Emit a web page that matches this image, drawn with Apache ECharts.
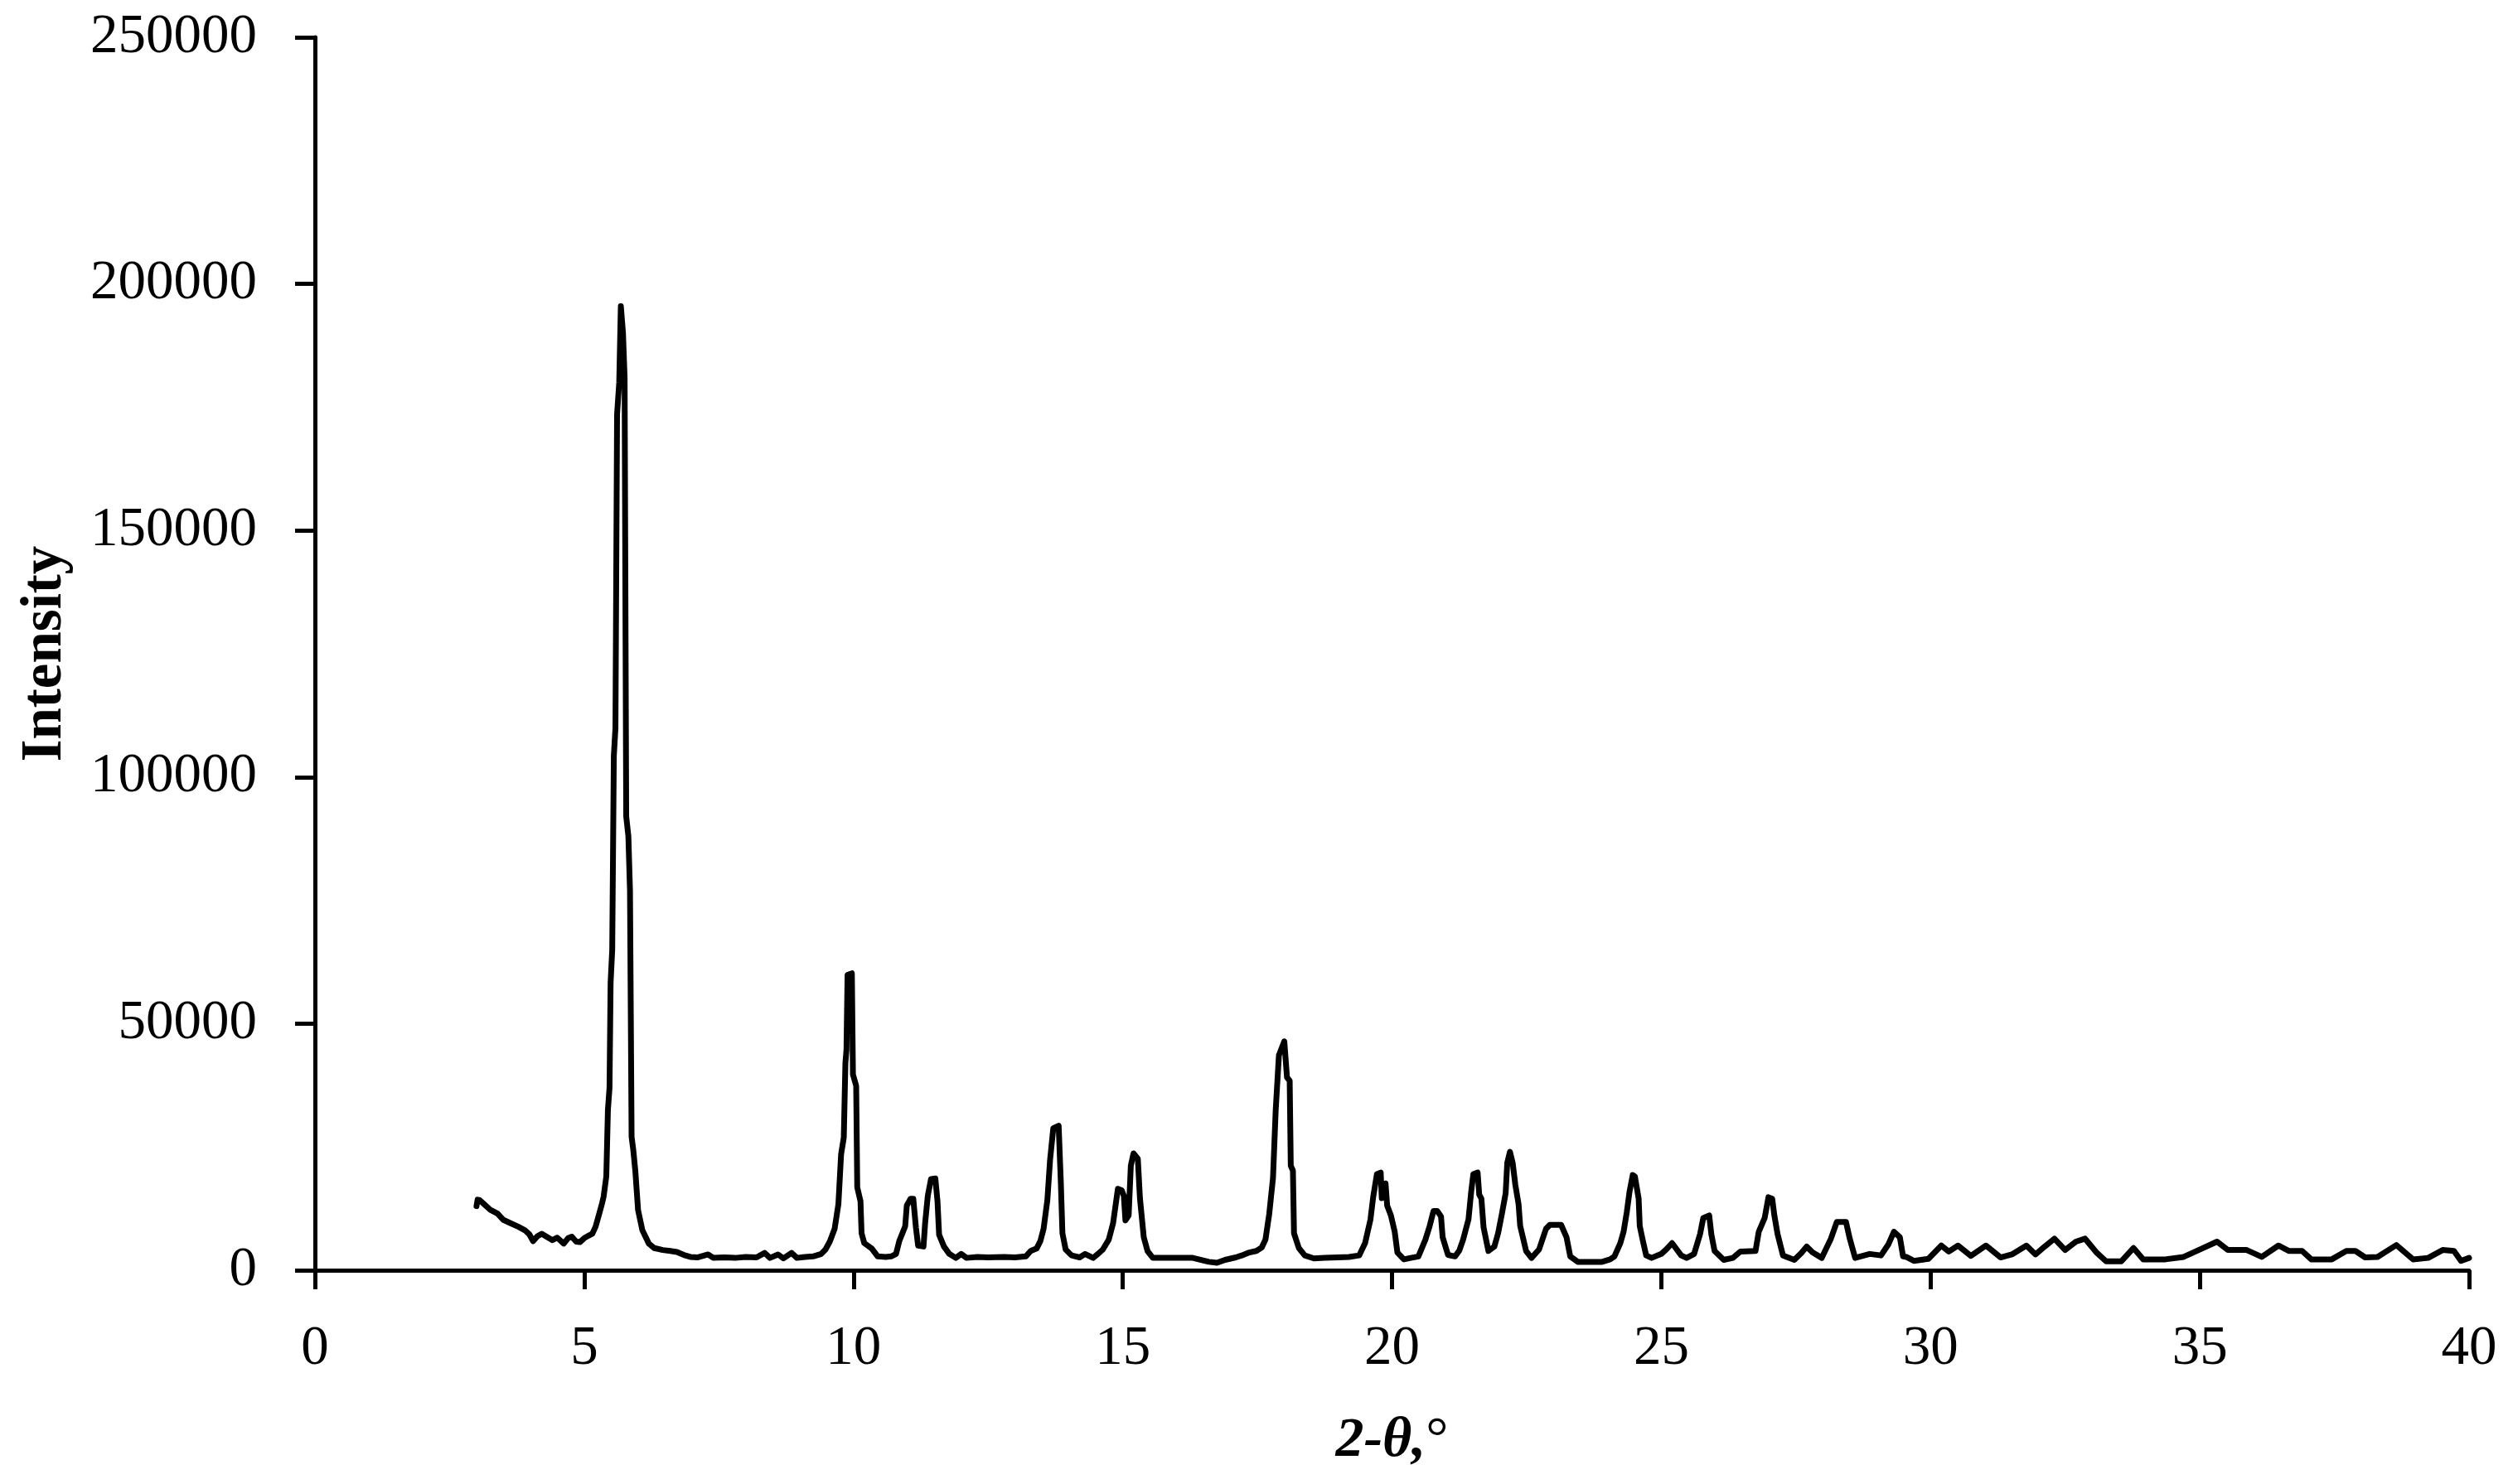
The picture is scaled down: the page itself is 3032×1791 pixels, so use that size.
<!DOCTYPE html>
<html>
<head>
<meta charset="utf-8">
<script src="https://cdn.jsdelivr.net/npm/echarts@6/dist/echarts.min.js"></script>
<style>
html,body{margin:0;padding:0;background:#fff;}
#chart{width:3032px;height:1791px;}
</style>
</head>
<body>
<div id="chart"></div>
<script>
var twoTheta = [
3.00,3.02,3.06,3.13,3.25,3.39,3.50,3.64,3.78,3.90,3.98,4.05,4.13,4.21,4.30,4.41,4.50,4.62,4.70,4.77,
4.85,4.92,5.00,5.08,5.15,5.21,5.28,5.33,5.36,5.41,5.44,5.47,5.49,5.52,5.55,5.58,5.61,5.65,5.68,5.72,
5.75,5.78,5.82,5.85,5.88,5.91,5.95,6.00,6.08,6.20,6.30,6.46,6.60,6.72,6.85,6.97,7.10,7.30,7.40,7.60,
7.80,8.00,8.20,8.35,8.45,8.60,8.70,8.85,8.95,9.10,9.25,9.40,9.48,9.56,9.65,9.72,9.77,9.82,9.85,9.87,
9.89,9.97,9.99,10.05,10.07,10.13,10.15,10.20,10.34,10.45,10.60,10.70,10.79,10.85,10.96,10.99,11.06,11.11,11.16,11.20,
11.30,11.33,11.38,11.44,11.52,11.56,11.59,11.68,11.78,11.90,12.00,12.10,12.30,12.50,12.80,13.00,13.20,13.29,13.40,13.47,
13.53,13.60,13.65,13.71,13.81,13.85,13.88,13.94,14.05,14.20,14.30,14.45,14.55,14.63,14.74,14.82,14.87,14.91,14.98,15.02,
15.05,15.11,15.15,15.20,15.28,15.32,15.39,15.46,15.56,15.70,16.00,16.30,16.60,16.75,16.90,17.10,17.21,17.35,17.48,17.58,
17.65,17.72,17.79,17.84,17.90,18.00,18.05,18.10,18.12,18.16,18.18,18.27,18.38,18.55,18.75,19.00,19.20,19.39,19.50,19.60,
19.65,19.72,19.79,19.81,19.88,19.91,19.98,20.05,20.10,20.22,20.35,20.49,20.62,20.70,20.77,20.84,20.91,20.94,21.04,21.17,
21.25,21.32,21.42,21.47,21.51,21.59,21.62,21.66,21.70,21.79,21.90,21.97,22.04,22.11,22.14,22.19,22.24,22.29,22.35,22.38,
22.49,22.59,22.73,22.86,22.93,23.14,23.24,23.31,23.45,23.70,23.90,24.05,24.13,24.24,24.30,24.36,24.41,24.47,24.51,24.58,
24.60,24.65,24.72,24.82,25.00,25.10,25.20,25.37,25.47,25.61,25.72,25.78,25.89,25.93,25.99,26.16,26.33,26.47,26.75,26.81,
26.92,26.99,27.06,27.10,27.16,27.26,27.47,27.60,27.70,27.81,27.98,28.15,28.26,28.43,28.50,28.60,28.87,29.08,29.22,29.32,
29.43,29.49,29.55,29.69,29.96,30.20,30.34,30.51,30.75,31.03,31.30,31.51,31.78,31.95,32.12,32.30,32.50,32.70,32.87,33.09,
33.26,33.54,33.77,33.95,34.36,34.70,34.98,35.32,35.52,35.87,36.15,36.46,36.66,36.90,37.07,37.45,37.72,37.89,38.07,38.30,
38.65,38.96,39.24,39.51,39.72,39.85,40.00
];
var intensity = [
13000,14300,14200,13500,12300,11500,10200,9500,8800,8100,7300,5900,6900,7400,6800,6100,6600,5400,6500,6800,
5800,5700,6500,7000,7400,8800,11500,13500,14900,19000,32500,37000,58300,65000,104300,110000,173500,180000,195500,190000,
181000,92000,88000,77000,27000,24500,20000,12200,8100,5400,4500,4100,3900,3700,3100,2700,2600,3200,2500,2600,
2500,2700,2600,3500,2500,3200,2400,3500,2500,2700,2800,3300,4200,5800,8400,13400,23500,26900,42000,44700,
59900,60200,39700,37400,16800,14000,7500,5500,4400,2800,2700,2800,3300,5900,8900,13100,14500,14500,8600,5000,
4800,9500,15100,18500,18600,14000,7200,4800,3300,2500,3300,2500,2700,2600,2700,2600,2800,3900,4400,5900,
8400,14200,22300,28800,29300,17900,7500,4200,3000,2600,3300,2500,3400,4200,6200,9500,13400,16500,16200,15100,
10100,11100,21200,23700,22600,14500,6700,3900,2500,2500,2500,2500,1700,1500,2100,2600,3000,3600,3900,4600,
6200,11400,18700,32400,43600,46400,39100,38400,21200,20200,7500,4500,3000,2400,2500,2600,2700,3000,5500,10300,
14800,19500,19800,14600,17600,13100,11100,7800,3600,2200,2500,2800,6200,9000,12000,12000,10900,6700,3100,2800,
4000,6200,10300,15900,19500,19800,15300,14500,8700,3900,4800,7500,11400,15600,21800,24000,21800,17300,13400,9000,
3900,2500,4200,8400,9200,9200,6700,2800,1700,1700,1700,2200,2800,5500,7800,11800,15900,19300,19000,14500,
9000,6400,3000,2500,3300,4300,5500,3000,2500,3300,7300,10600,11100,7300,3900,2100,2500,3800,3900,7800,
10600,14800,14500,11100,7300,3000,2100,3500,4800,3600,2500,6400,9800,9800,6400,2500,3300,3000,5300,7800,
6700,2800,2700,1900,2300,5000,3800,5000,2900,5000,2600,3200,5000,3200,4800,6400,4100,5800,6400,3500,
1800,1800,4500,2200,2200,2700,4100,5800,4100,4100,2700,5000,3900,3900,2200,2200,3900,3900,2600,2700,
5100,2200,2500,4100,3900,1900,2500
];
var xTicks = {min: 0, max: 40, interval: 5};
var yTicks = {min: 0, max: 250000, interval: 50000};
var xTitle = '2-θ,°';
var yTitle = 'Intensity';

var points = twoTheta.map(function (t, i) { return [t, intensity[i]]; });
var FONT = '"Liberation Serif", "DejaVu Serif", serif';

var chart = echarts.init(document.getElementById('chart'), null, {renderer: 'canvas'});
chart.setOption({
  animation: false,
  backgroundColor: '#ffffff',
  grid: {left: 380, right: 53, top: 45, bottom: 258, containLabel: false},
  xAxis: {
    type: 'value',
    min: xTicks.min, max: xTicks.max, interval: xTicks.interval,
    name: '{a|2-θ,}{b|°}',
    nameLocation: 'middle',
    nameGap: 172,
    nameTextStyle: {
      rich: {
        a: {fontFamily: FONT, fontSize: 68, fontWeight: 'bold', fontStyle: 'italic', color: '#000'},
        b: {fontFamily: FONT, fontSize: 68, fontWeight: 'normal', color: '#000'}
      }
    },
    axisLine: {show: true, onZero: false, lineStyle: {color: '#000', width: 5}},
    axisTick: {show: true, inside: false, length: 23, lineStyle: {color: '#000', width: 5}},
    axisLabel: {margin: 62, fontFamily: FONT, fontSize: 67, color: '#000', formatter: function (v) { return String(v); }},
    splitLine: {show: false}
  },
  yAxis: {
    type: 'value',
    min: yTicks.min, max: yTicks.max, interval: yTicks.interval,
    name: yTitle,
    nameLocation: 'middle',
    nameGap: 290,
    nameRotate: 90,
    nameTextStyle: {fontFamily: FONT, fontSize: 69, fontWeight: 'bold', color: '#000'},
    axisLine: {show: true, onZero: false, lineStyle: {color: '#000', width: 5}},
    axisTick: {show: true, inside: false, length: 24, lineStyle: {color: '#000', width: 5}},
    axisLabel: {margin: 70, fontFamily: FONT, fontSize: 67, color: '#000', formatter: function (v) { return String(v); }},
    splitLine: {show: false}
  },
  series: [{
    type: 'line',
    data: points,
    showSymbol: false,
    smooth: false,
    lineStyle: {color: '#000', width: 7, join: 'round', cap: 'round'},
    clip: false
  }]
});
</script>
</body>
</html>
